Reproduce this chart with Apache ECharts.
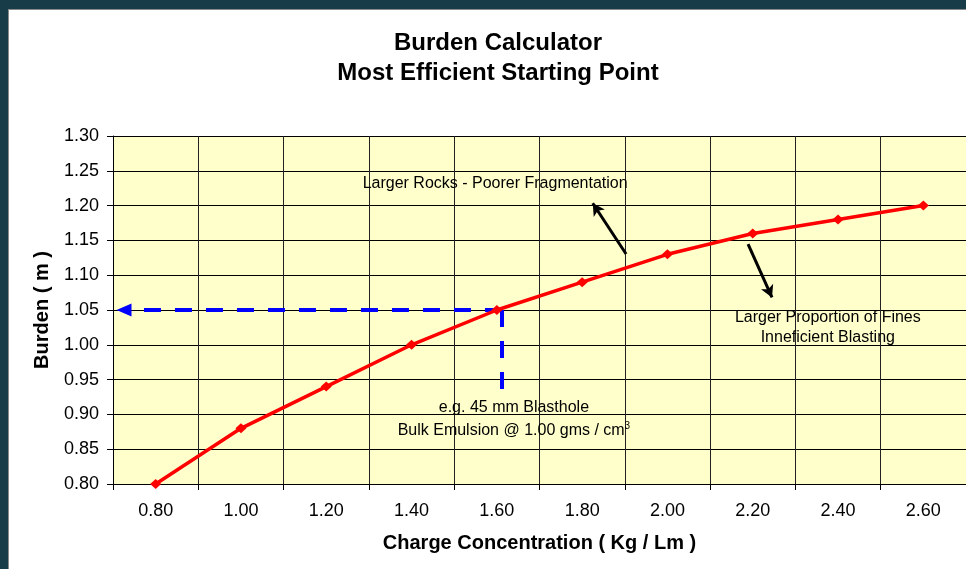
<!DOCTYPE html>
<html>
<head>
<meta charset="utf-8">
<script src="https://cdn.jsdelivr.net/npm/echarts@6/dist/echarts.min.js"></script>
<style>
  html, body { margin: 0; padding: 0; background: #183c48; }
  #frame { position: absolute; left: 8px; top: 9px; width: 958px; height: 560px; background: #fff;
           border-left: 1px solid #8a8a8a; border-top: 1px solid #8a8a8a; box-sizing: border-box; }
  #chart { position: absolute; left: 0; top: 0; width: 966px; height: 569px; }
</style>
</head>
<body>
<div id="frame"></div>
<div id="chart"></div>
<script>
  // charge concentration (Kg/Lm) vs burden (m)
  const categories = ['0.80', '1.00', '1.20', '1.40', '1.60', '1.80', '2.00', '2.20', '2.40', '2.60'];
  const burden = [0.80, 0.88, 0.94, 1.00, 1.05, 1.09, 1.13, 1.16, 1.18, 1.20];

  // annotation guides, in data units on the hidden value x axis (0.7 .. 2.7)
  const guideH = [[1.612, 1.05], [0.7258, 1.05]];
  const guideV = [[1.612, 1.05], [1.612, 0.9293]];
  const arrowUp = [[1.903, 1.1305], [1.8248, 1.2034]];
  const arrowDown = [[2.189, 1.1448], [2.2451, 1.0681]];

  const notes = [
    { pos: [1.596, 1.231], text: 'Larger Rocks - Poorer Fragmentation' },
    { pos: [2.376, 1.0241], text: 'Larger Proportion of Fines\nInneficient Blasting' },
    { pos: [1.640, 0.8926], text: 'e.g. 45 mm Blasthole\nBulk Emulsion @ 1.00 gms / cm{sup|3}' }
  ];

  const font = 'Liberation Sans, Arial, sans-serif';
  const blueLine = { color: '#0000ff', width: 4, type: [17, 14] };
  const blackLine = { color: '#000', width: 3, type: 'solid' };

  const chart = echarts.init(document.getElementById('chart'));
  chart.setOption({
    animation: false,
    backgroundColor: 'transparent',
    title: {
      text: 'Burden Calculator\nMost Efficient Starting Point',
      left: 498,
      top: 28,
      padding: 0,
      textAlign: 'center',
      textStyle: { fontFamily: font, fontWeight: 'bold', fontSize: 24, lineHeight: 30, color: '#000' }
    },
    grid: {
      left: 113, top: 136, right: 0, bottom: 85,
      show: true, backgroundColor: '#ffffcc', borderWidth: 0
    },
    xAxis: [{
      type: 'category',
      data: categories,
      boundaryGap: true,
      axisLine: { lineStyle: { color: '#000', width: 1 } },
      axisTick: { show: true, length: 6, lineStyle: { color: '#000' } },
      axisLabel: { interval: 0, margin: 18, fontSize: 18, color: '#000', fontFamily: font },
      splitLine: { show: true, interval: 0, lineStyle: { color: '#222', width: 1 } },
      name: 'Charge Concentration ( Kg / Lm )',
      nameLocation: 'middle',
      nameGap: 49,
      nameTextStyle: { fontFamily: font, fontWeight: 'bold', fontSize: 20, color: '#000' }
    }, {
      type: 'value',
      min: 0.7,
      max: 2.7,
      show: false
    }],
    yAxis: {
      type: 'value',
      min: 0.8,
      max: 1.3,
      interval: 0.05,
      axisLine: { show: true, lineStyle: { color: '#000', width: 1 } },
      axisTick: { show: true, length: 6, lineStyle: { color: '#000' } },
      axisLabel: { margin: 14, fontSize: 18, color: '#000', fontFamily: font,
                   formatter: v => v.toFixed(2) },
      splitLine: { show: true, lineStyle: { color: '#000', width: 1 } },
      name: 'Burden ( m )',
      nameLocation: 'middle',
      nameGap: 61,
      nameTextStyle: { fontFamily: font, fontWeight: 'bold', fontSize: 20, color: '#000' }
    },
    series: [{
      name: 'notes',
      type: 'scatter',
      xAxisIndex: 1,
      symbolSize: 1,
      itemStyle: { color: '#ffffcc', opacity: 1 },
      silent: true,
      z: 3,
      data: notes.map(n => ({
        value: n.pos,
        label: {
          show: true,
          position: 'inside',
          formatter: n.text,
          color: '#000',
          opacity: 1,
          textBorderWidth: 0,
          fontFamily: font,
          fontSize: 16,
          lineHeight: n.text.indexOf('sup') >= 0 ? 23 : 20,
          align: 'center',
          rich: { sup: { fontSize: 10, fontFamily: font, color: '#000', padding: [0, 0, 9, 0] } }
        }
      })),
      markLine: {
        silent: true,
        animation: false,
        label: { show: false },
        emphasis: { disabled: true },
        data: [
          [{ coord: guideH[0], symbol: 'none', lineStyle: blueLine },
           { coord: guideH[1], symbol: 'triangle', symbolSize: [13, 15] }],
          [{ coord: guideV[0], symbol: 'none', lineStyle: blueLine },
           { coord: guideV[1], symbol: 'none' }],
          [{ coord: arrowUp[0], symbol: 'none', lineStyle: blackLine },
           { coord: arrowUp[1], symbol: 'arrow', symbolSize: [10, 12] }],
          [{ coord: arrowDown[0], symbol: 'none', lineStyle: blackLine },
           { coord: arrowDown[1], symbol: 'arrow', symbolSize: [10, 12] }]
        ]
      }
    }, {
      name: 'Burden',
      type: 'line',
      xAxisIndex: 0,
      data: burden,
      z: 5,
      symbol: 'diamond',
      symbolSize: [11, 10],
      itemStyle: { color: '#ff0000' },
      lineStyle: { color: '#ff0000', width: 3.5 }
    }]
  });
</script>
</body>
</html>
